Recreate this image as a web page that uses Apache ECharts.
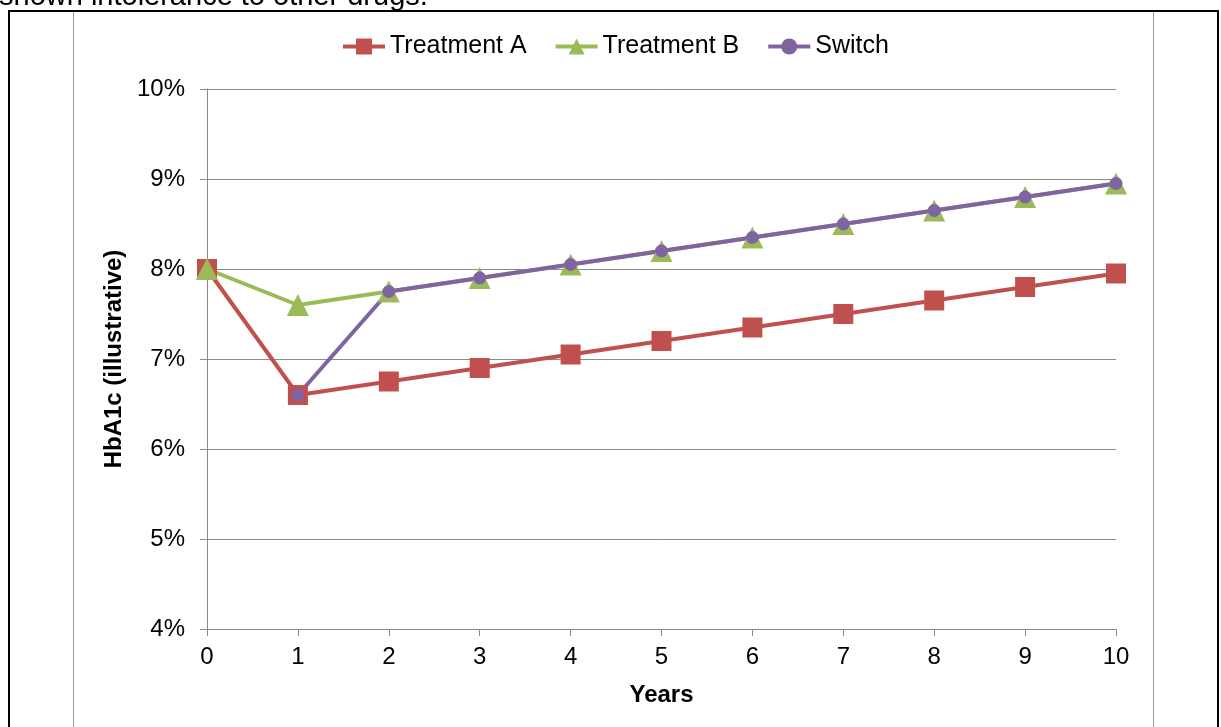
<!DOCTYPE html>
<html>
<head>
<meta charset="utf-8">
<script src="https://cdn.jsdelivr.net/npm/echarts@6/dist/echarts.min.js"></script>
<style>
html,body{margin:0;padding:0;background:#fff;}
#chart{width:1221px;height:727px;}
</style>
</head>
<body>
<div id="chart"></div>
<script>
var years = [0, 1, 2, 3, 4, 5, 6, 7, 8, 9, 10];
var treatmentA = [8.0, 6.6, 6.75, 6.9, 7.05, 7.2, 7.35, 7.5, 7.65, 7.8, 7.95];
var treatmentB = [8.0, 7.6, 7.75, 7.9, 8.05, 8.2, 8.35, 8.5, 8.65, 8.8, 8.95];
var switchVals = [null, 6.6, 7.75, 7.9, 8.05, 8.2, 8.35, 8.5, 8.65, 8.8, 8.95];
var seriesNames = ['Treatment A', 'Treatment B', 'Switch'];
var topText = 'shown intolerance to other drugs.';

function pairs(vals) {
  return years.map(function (y, i) { return [y, vals[i]]; });
}

var FONT = "'Liberation Sans', Arial, sans-serif";
var chart = echarts.init(document.getElementById('chart'));
var gridColor = '#8a8a8a';

chart.setOption({
  animation: false,
  backgroundColor: '#ffffff',
  textStyle: { fontFamily: FONT },
  graphic: [
    { type: 'text', left: -1, top: -18, style: { text: topText, font: '29px ' + FONT, fill: '#000' } },
    { type: 'line', shape: { x1: 8, y1: 11, x2: 1219, y2: 11 }, style: { stroke: '#000', lineWidth: 2 } },
    { type: 'line', shape: { x1: 9, y1: 11, x2: 9, y2: 727 }, style: { stroke: '#000', lineWidth: 2 } },
    { type: 'line', shape: { x1: 1218, y1: 11, x2: 1218, y2: 727 }, style: { stroke: '#000', lineWidth: 2 } },
    { type: 'line', shape: { x1: 73.5, y1: 12, x2: 73.5, y2: 727 }, style: { stroke: '#999', lineWidth: 1 } },
    { type: 'line', shape: { x1: 1153.5, y1: 12, x2: 1153.5, y2: 727 }, style: { stroke: '#999', lineWidth: 1 } }
  ],
  legend: {
    data: seriesNames,
    left: 336,
    top: 29,
    itemWidth: 42,
    itemHeight: 20,
    itemGap: 27,
    lineStyle: { width: 4 },
    textStyle: { fontSize: 25, color: '#000', fontFamily: FONT }
  },
  grid: { left: 207, right: 105, top: 89, bottom: 98 },
  xAxis: {
    type: 'value',
    min: 0, max: 10, interval: 1,
    name: 'Years',
    nameLocation: 'middle',
    nameGap: 54,
    nameTextStyle: { fontSize: 24, fontWeight: 'bold', color: '#000', fontFamily: FONT },
    axisLine: { show: true, lineStyle: { color: gridColor, width: 1 } },
    axisTick: { show: true, length: 7, lineStyle: { color: gridColor } },
    axisLabel: { fontSize: 24, color: '#000', margin: 16, fontFamily: FONT },
    splitLine: { show: false }
  },
  yAxis: {
    type: 'value',
    min: 4, max: 10, interval: 1,
    name: 'HbA1c (illustrative)',
    nameLocation: 'middle',
    nameRotate: 90,
    nameGap: 68,
    nameTextStyle: { fontSize: 24, fontWeight: 'bold', color: '#000', fontFamily: FONT },
    axisLine: { show: true, lineStyle: { color: gridColor, width: 1 } },
    axisTick: { show: true, length: 7, lineStyle: { color: gridColor } },
    axisLabel: { fontSize: 24, color: '#000', margin: 22, formatter: '{value}%', fontFamily: FONT },
    splitLine: { show: true, lineStyle: { color: gridColor, width: 1 } }
  },
  series: [
    {
      name: seriesNames[0], type: 'line', data: pairs(treatmentA),
      symbol: 'rect', symbolSize: 20,
      lineStyle: { color: '#C0504D', width: 4 },
      itemStyle: { color: '#C0504D' }
    },
    {
      name: seriesNames[1], type: 'line', data: pairs(treatmentB),
      symbol: 'triangle', symbolSize: 22,
      lineStyle: { color: '#9BBB59', width: 4 },
      itemStyle: { color: '#9BBB59' }
    },
    {
      name: seriesNames[2], type: 'line', data: pairs(switchVals),
      symbol: 'circle', symbolSize: 13,
      lineStyle: { color: '#8064A2', width: 4 },
      itemStyle: { color: '#8064A2' }
    }
  ]
});
</script>
</body>
</html>
